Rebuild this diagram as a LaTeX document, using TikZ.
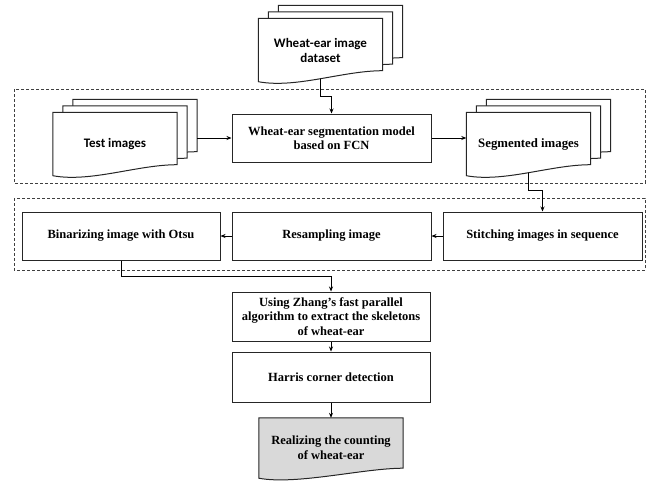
\documentclass[tikz,border=0pt]{standalone}
\usepackage{fontspec}
\setmainfont{Liberation Serif}
\newfontfamily\calfont{Carlito}
\usetikzlibrary{arrows.meta,backgrounds}
\tikzset{
  box/.style={draw=black!85,line width=1pt,fill=white,minimum width=198pt,minimum height=48pt,
    align=center,inner sep=0pt,font=\bfseries\fontsize{12.5}{14.5}\selectfont},
  doc/.style={minimum width=124pt,minimum height=63pt,align=center,inner sep=0pt,
    font=\bfseries\fontsize{12.8}{15}\selectfont},
  page/.style={draw=black!85,line width=1pt},
  grp/.style={draw=black!75,line width=0.8pt,dash pattern=on 3pt off 2pt},
  arr/.style={-{Stealth[length=5pt,width=4pt]},line width=0.7pt}
}
% one page of a document stack: [fill] node, dx, dy, drop of the wave
\newcommand\wavepage[5][white]{%
  \draw[page,fill=#1] ([shift={(#3,#4)}]#2.north west) -- ([shift={(#3,#4)}]#2.north east)
    -- ([shift={(#3,#4+#5)}]#2.south east) .. controls +(-40pt,0pt) and +(38pt,-7pt)
    .. ([shift={(#3,#4)}]#2.south west) -- cycle;}
\newcommand\wavestack[1]{%
  \wavepage{#1}{20pt}{13pt}{11pt}\wavepage{#1}{10pt}{6.5pt}{11pt}\wavepage{#1}{0pt}{0pt}{11pt}}
\begin{document}
\begin{tikzpicture}[x=1pt,y=-1pt]
\useasboundingbox (0,0) rectangle (655,483);
% documents
\node[doc,font=\calfont\bfseries\fontsize{13}{15}\selectfont] (data) at (320.5,50) {Wheat-ear image\\dataset};
\node[doc,font=\calfont\bfseries\fontsize{13}{15}\selectfont] (test) at (115,144) {Test images};
\node[doc] (seg) at (528.5,144) {Segmented images};
\node[doc,font=\bfseries\fontsize{12.5}{15}\selectfont,minimum width=144pt,minimum height=60pt] (real) at (331,448) {Realizing the counting\\of wheat-ear};
% boxes
\node[box,minimum width=199pt] (model) at (331.5,138) {Wheat-ear segmentation model\\based on FCN};
\node[box,minimum width=199pt] (stitch) at (542.5,236) {Stitching images in sequence};
\node[box,minimum width=199pt] (resamp) at (331.5,236) {Resampling image};
\node[box] (bin) at (121,236) {Binarizing image with Otsu};
\node[box,minimum height=49pt] (zhang) at (331,316.5) {Using Zhang's fast parallel\\algorithm to extract the skeletons\\of wheat-ear};
\node[box,minimum height=50pt] (harris) at (331,377) {Harris corner detection};
\begin{scope}[on background layer]
  \draw[grp] (14,89) rectangle (645,183)
    (14,198) rectangle (645,270);
  \wavestack{data}\wavestack{test}\wavestack{seg}
  \wavepage[black!15]{real}{0pt}{0pt}{10pt}
\end{scope}
% connectors
\draw[arr] ([yshift=3pt]data.south) -- ++(0,18) -| (model.north);
\draw[arr] (model.west -| test.east) ++(20,0) -- (model.west);
\draw[arr] (model.east) -- (model.east -| seg.west);
\draw[arr] ([yshift=3pt]seg.south) -- ++(0,18) -| (stitch.north);
\draw[arr] (stitch.west) -- (resamp.east);
\draw[arr] (resamp.west) -- (bin.east);
\draw[arr] (bin.south) -- ++(0,16) -| (zhang.north);
\draw[arr] (zhang.south) -- (harris.north);
\draw[arr] (harris.south) -- (real.north);
\end{tikzpicture}
\end{document}
